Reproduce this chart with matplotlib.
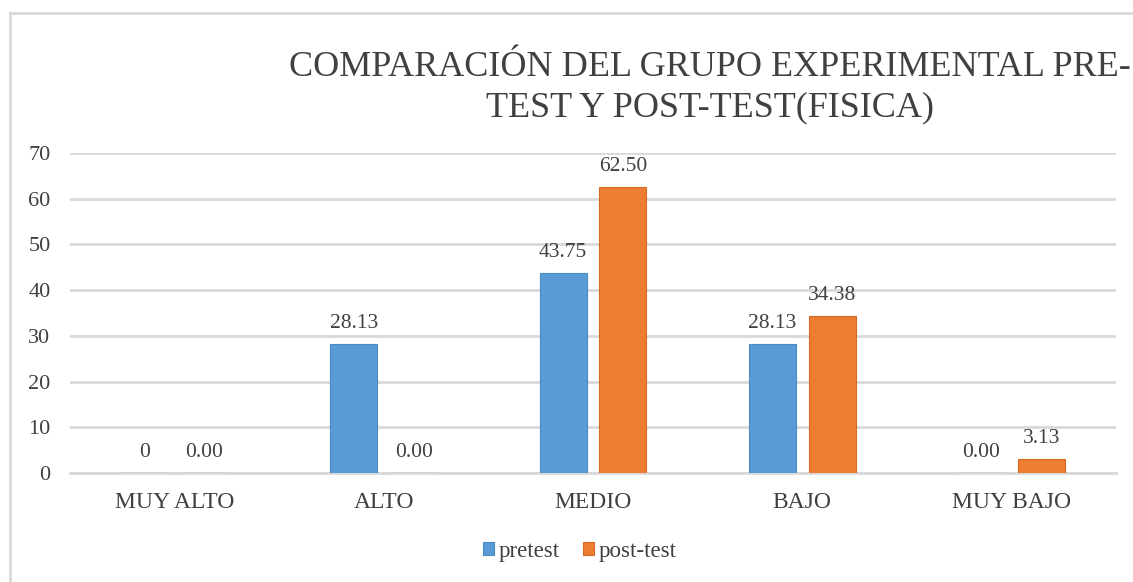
import matplotlib
matplotlib.use("Agg")
import matplotlib.pyplot as plt
from matplotlib.lines import Line2D
import numpy as np

categories = ["MUY ALTO", "ALTO", "MEDIO", "BAJO", "MUY BAJO"]
pretest = [0, 28.13, 43.75, 28.13, 0.00]
posttest = [0.00, 0.00, 62.50, 34.38, 3.13]
pre_labels = ["0", "28.13", "43.75", "28.13", "0.00"]
post_labels = ["0.00", "0.00", "62.50", "34.38", "3.13"]
yticks = [0, 10, 20, 30, 40, 50, 60, 70]
title = "COMPARACIÓN DEL GRUPO EXPERIMENTAL PRE-\nTEST Y POST-TEST(FISICA)"

plt.rcParams['font.family'] = ['Liberation Serif', 'DejaVu Serif']
txt = '#404040'
grid_c = '#d9d9d9'
blue = '#5B9BD5'
orange = '#ED7D31'

W, H = 1133, 582
fig = plt.figure(figsize=(W / 100, H / 100), dpi=100)
ax = fig.add_axes([70 / W, 1 - 473 / H, (1116 - 70) / W, (473 - 153) / H])

x = np.arange(len(categories))
bw = 0.225
off = 0.143
b1 = ax.bar(x - off, pretest, bw, color=blue, edgecolor='#4a8ac4', linewidth=0.8, label='pretest', zorder=3)
b2 = ax.bar(x + off, posttest, bw, color=orange, edgecolor='#d46a22', linewidth=0.8, label='post-test', zorder=3)

for xi, v, lab in zip(x - off, pretest, pre_labels):
    ax.annotate(lab, (xi, v), xytext=(0, 8), textcoords='offset points', ha='center', va='bottom',
                fontsize=15.5, color=txt)
for xi, v, lab in zip(x + off, posttest, post_labels):
    ax.annotate(lab, (xi, v), xytext=(0, 8), textcoords='offset points', ha='center', va='bottom',
                fontsize=15.5, color=txt)

ax.set_xlim(-0.5, len(categories) - 0.5)
ax.set_ylim(0, 70)
ax.set_yticks(yticks)
ax.set_yticklabels([str(t) for t in yticks], fontsize=16, color=txt)
ax.set_xticks(x)
ax.set_xticklabels(categories, fontsize=17, color=txt)
ax.tick_params(axis='both', length=0)
ax.tick_params(axis='y', pad=14)
ax.tick_params(axis='x', pad=14)
ax.yaxis.grid(True, color=grid_c, linewidth=2, zorder=0)
ax.set_axisbelow(True)
for s in ['top', 'right', 'left']:
    ax.spines[s].set_visible(False)
ax.spines['bottom'].set_color(grid_c)
ax.spines['bottom'].set_linewidth(2)

fig.text(710 / W, 1 - 87.5 / H, title, ha='center', va='center', fontsize=26, color=txt, linespacing=1.3)

leg = fig.legend(handles=[b1, b2], loc='center', bbox_to_anchor=(580 / W, 1 - 551 / H), ncol=2,
                 frameon=False, fontsize=16.5, handlelength=0.5, handleheight=0.5,
                 handletextpad=0.2, columnspacing=1.0)
for t in leg.get_texts():
    t.set_color(txt)

# outer frame (left and top edges visible)
fig.add_artist(Line2D([10 / W, 10 / W], [0, 1 - 13 / H], color=grid_c, linewidth=2, transform=fig.transFigure))
fig.add_artist(Line2D([10 / W, 1], [1 - 13 / H, 1 - 13 / H], color=grid_c, linewidth=2, transform=fig.transFigure))

fig.savefig('out.png', dpi=100)
